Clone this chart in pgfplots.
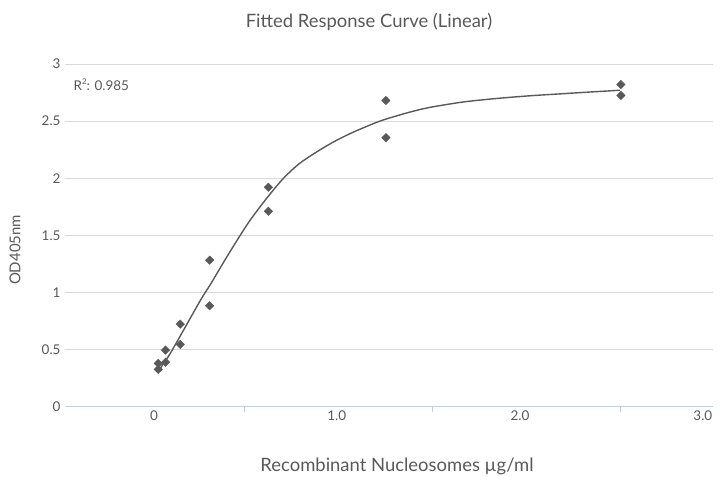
\documentclass[border=0pt]{standalone}
\usepackage{fontspec}
\setmainfont{Lato}
\usepackage{pgfplots}
\usepackage{pgfplotstable}
\pgfplotsset{compat=1.18}

\definecolor{txt}{HTML}{595959}
\definecolor{gridc}{HTML}{D9D9D9}
\definecolor{axln}{HTML}{C5D0DD}
\definecolor{ptc}{HTML}{595959}

% measured replicates
\pgfplotstableread{
x      y
0.039  0.378
0.039  0.325
0.078  0.387
0.078  0.494
0.156  0.722
0.156  0.544
0.3125 1.282
0.3125 0.882
0.625  1.920
0.625  1.710
1.25   2.680
1.25   2.355
2.5    2.820
2.5    2.725
}\pointdata

% fitted curve
\pgfplotstableread{
x      y
0.039  0.310
0.092  0.436
0.150  0.600
0.264  0.932
0.314  1.063
0.400  1.300
0.460  1.460
0.527  1.630
0.615  1.822
0.704  1.997
0.790  2.128
0.881  2.229
0.970  2.316
1.059  2.390
1.150  2.455
1.236  2.510
1.378  2.579
1.484  2.620
1.660  2.667
1.839  2.698
2.020  2.722
2.193  2.740
2.350  2.756
2.495  2.770
}\fitdata

\begin{document}
\begin{tikzpicture}
\useasboundingbox (-65bp,-70.5bp) rectangle (660bp,406.5bp);
\begin{axis}[
    name=ax,
    at={(0,0)}, anchor=south west,
    scale only axis,
    width=648bp, height=342.5bp,
    xmin=-0.457, xmax=2.99,
    ymin=0, ymax=3,
    axis line style={draw=none},
    ytick={0,0.5,...,3},
    ymajorgrids,
    grid style={draw=gridc, line width=0.9bp},
    xtick={0.016,0.989,1.963,2.936},
    xticklabels={0,1.0,2.0,3.0},
    tick style={draw=none},
    tick label style={font=\fontsize{13.5}{15}\selectfont, text=txt},
    /pgf/number format/assume math mode=true,
    yticklabel style={xshift=-1bp},
    xticklabel style={yshift=-1bp},
    clip=false,
]
\draw[axln, line width=0.9bp] (axis cs:-0.457,0) -- (axis cs:2.99,0);
\pgfplotsinvokeforeach{0.5,1.5,2.5}{
  \draw[axln, line width=0.9bp] (axis cs:#1,0) -- ([yshift=-5bp]axis cs:#1,0);
}
\addplot[ptc, line width=1.4bp, smooth, tension=0.5, no marks] table[x=x, y=y] {\fitdata};
\addplot[only marks, mark=square*, mark size=3bp,
    mark options={rotate=45, fill=ptc, draw=ptc}] table[x=x, y=y] {\pointdata};
\coordinate (r2) at (axis cs:-0.43,2.82);
\end{axis}
\node[anchor=west, text=txt, font=\fontsize{13.5}{15}\selectfont] at (r2)
    {R\raisebox{0.45em}{\fontsize{8}{9}\selectfont 2}: 0.985};
\node[text=txt, font=\fontsize{18.5}{21}\selectfont]
    at (304bp,384.5bp) {Fitted Response Curve (Linear)};
\node[text=txt, font=\fontsize{18.5}{21}\selectfont]
    at (332bp,-59.5bp) {Recombinant Nucleosomes \symbol{"00B5}g/ml};
\node[text=txt, font=\fontsize{15}{18}\selectfont, rotate=90]
    at (-50bp,156.5bp) {OD405nm};
\end{tikzpicture}
\end{document}
